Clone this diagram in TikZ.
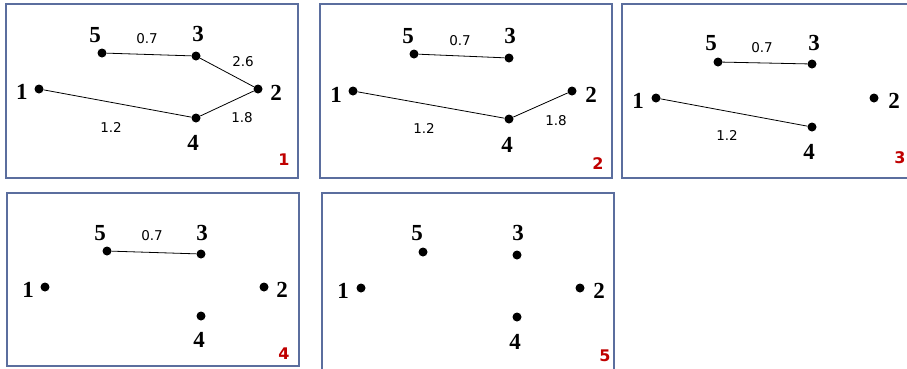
\documentclass[tikz,border=0pt]{standalone}
\usepackage{fontspec}
\setmainfont{Liberation Serif}
\newfontfamily\wfont{DejaVu Sans}
\newfontfamily\pfont{DejaVu Sans}
\definecolor{frame}{HTML}{5B6E9E}
\definecolor{pred}{HTML}{C00000}
\tikzset{
  vdot/.style={circle,fill=black,inner sep=0pt,minimum size=9pt},
  vlab/.style={inner sep=0pt,font=\fontsize{23}{23}\selectfont\bfseries},
  wlab/.style={inner sep=0pt,font=\wfont\fontsize{13.5}{13.5}\selectfont},
  plab/.style={inner sep=0pt,text=pred,font=\pfont\bfseries\fontsize{16}{16}\selectfont},
  edge/.style={draw=black,line width=0.8pt},
  panel/.style={draw=frame,line width=1.2pt}
}
\begin{document}
\begin{tikzpicture}[x=1pt,y=-1pt]
\useasboundingbox (0,0) rectangle (907,368);
\fill[white] (0,0) rectangle (907,368);
% panel frames
\draw[panel] (6,4) rectangle (298,178);
\draw[panel] (320,4) rectangle (612,178);
\draw[panel] (910,4) -- (622,4) -- (622,178) -- (910,178);
\draw[panel] (7,193) rectangle (299,366);
\draw[panel] (322,372) -- (322,193) -- (614,193) -- (614,372);

% ---------- panel 1 ----------
\node[vdot] (a1) at (39,89) {};
\node[vdot] (a2) at (258,89) {};
\node[vdot] (a3) at (196,56) {};
\node[vdot] (a4) at (196,118) {};
\node[vdot] (a5) at (102,53) {};
\node[vlab] (la1) at (22,92) {1};
\node[vlab] (la2) at (276,93) {2};
\node[vlab] (la3) at (198,34) {3};
\node[vlab] (la4) at (193,143) {4};
\node[vlab] (la5) at (95,35) {5};
\draw[edge] (a5) -- (a3);
\draw[edge] (a3) -- (a2);
\draw[edge] (a2) -- (a4);
\draw[edge] (a4) -- (a1);
\node[wlab] (wa1) at (147,39) {0.7};
\node[wlab] (wa2) at (243,62) {2.6};
\node[wlab] (wa3) at (111,127) {1.2};
\node[wlab] (wa4) at (242,118) {1.8};
\node[plab] (pa) at (284,160) {1};

% ---------- panel 2 ----------
\node[vdot] (b1) at (353,91) {};
\node[vdot] (b2) at (572,91) {};
\node[vdot] (b3) at (509,58) {};
\node[vdot] (b4) at (509,119) {};
\node[vdot] (b5) at (414,54) {};
\node[vlab] (lb1) at (336,95) {1};
\node[vlab] (lb2) at (591,95) {2};
\node[vlab] (lb3) at (510,36) {3};
\node[vlab] (lb4) at (507,145) {4};
\node[vlab] (lb5) at (408,36) {5};
\draw[edge] (b5) -- (b3);
\draw[edge] (b2) -- (b4);
\draw[edge] (b4) -- (b1);
\node[wlab] (wb1) at (460,41) {0.7};
\node[wlab] (wb3) at (424,128) {1.2};
\node[wlab] (wb4) at (556,121) {1.8};
\node[plab] (pb) at (598,164) {2};

% ---------- panel 3 ----------
\node[vdot] (c1) at (656,98) {};
\node[vdot] (c2) at (874,98) {};
\node[vdot] (c3) at (812,64) {};
\node[vdot] (c4) at (812,127) {};
\node[vdot] (c5) at (718,62) {};
\node[vlab] (lc1) at (638,101) {1};
\node[vlab] (lc2) at (894,101) {2};
\node[vlab] (lc3) at (814,43) {3};
\node[vlab] (lc4) at (809,152) {4};
\node[vlab] (lc5) at (711,43) {5};
\draw[edge] (c5) -- (c3);
\draw[edge] (c4) -- (c1);
\node[wlab] (wc1) at (762,48) {0.7};
\node[wlab] (wc3) at (727,135) {1.2};
\node[plab] (pc) at (900,158) {3};

% ---------- panel 4 ----------
\node[vdot] (d1) at (45,287) {};
\node[vdot] (d2) at (264,287) {};
\node[vdot] (d3) at (201,254) {};
\node[vdot] (d4) at (201,316) {};
\node[vdot] (d5) at (107,251) {};
\node[vlab] (ld1) at (28,290) {1};
\node[vlab] (ld2) at (282,290) {2};
\node[vlab] (ld3) at (202,233) {3};
\node[vlab] (ld4) at (199,340) {4};
\node[vlab] (ld5) at (100,233) {5};
\draw[edge] (d5) -- (d3);
\node[wlab] (wd1) at (152,236) {0.7};
\node[plab] (pd) at (284,354) {4};

% ---------- panel 5 ----------
\node[vdot] (e1) at (361,288) {};
\node[vdot] (e2) at (580,288) {};
\node[vdot] (e3) at (517,255) {};
\node[vdot] (e4) at (517,317) {};
\node[vdot] (e5) at (423,252) {};
\node[vlab] (le1) at (343,291) {1};
\node[vlab] (le2) at (599,291) {2};
\node[vlab] (le3) at (518,233) {3};
\node[vlab] (le4) at (515,342) {4};
\node[vlab] (le5) at (417,233) {5};
\node[plab] (pe) at (605,356) {5};
\end{tikzpicture}
\end{document}
